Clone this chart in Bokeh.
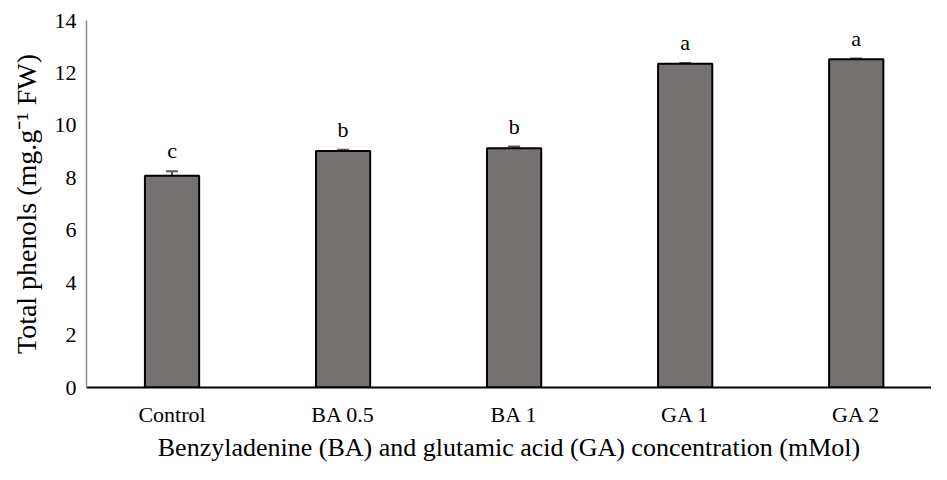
from bokeh.plotting import figure
from bokeh.models import Range1d, FixedTicker, ColumnDataSource, Whisker
from bokeh.core.properties import value
from bokeh.embed import file_html
from bokeh.resources import INLINE

categories = ["Control", "BA 0.5", "BA 1", "GA 1", "GA 2"]
phenols = [8.08, 9.02, 9.13, 12.35, 12.52]
errors = [0.17, 0.05, 0.06, 0.03, 0.03]
letters = ["c", "b", "b", "a", "a"]
y_ticks = [0, 2, 4, 6, 8, 10, 12, 14]

xs = list(range(len(categories)))
src = ColumnDataSource(dict(
    x=xs, top=phenols, lower=[v - e for v, e in zip(phenols, errors)],
    upper=[v + e for v, e in zip(phenols, errors)], lab=letters,
))

FONT = "Liberation Serif"
p = figure(width=931, height=464, output_backend="svg", toolbar_location=None,
           x_range=Range1d(-0.5, 4.44), y_range=Range1d(0, 14),
           min_border_left=86, min_border_right=0, min_border_top=20, min_border_bottom=70)
p.outline_line_color = None
p.grid.visible = False

p.vbar(x="x", top="top", width=0.317, source=src, fill_color="#767171",
       line_color="black", line_width=2)
w = Whisker(source=src, base="x", lower="lower", upper="upper",
            line_color="#595959", line_width=2)
for h in (w.upper_head, w.lower_head):
    h.size = 12
    h.line_color = "#595959"
    h.line_width = 2
p.add_layout(w)

p.text(x="x", y="upper", text="lab", source=src, text_align="center",
       text_baseline="bottom", y_offset=-8, text_font=value(FONT),
       text_font_size="22px", text_color="black")

p.yaxis.ticker = FixedTicker(ticks=y_ticks)
p.xaxis.ticker = FixedTicker(ticks=xs)
p.xaxis.major_label_overrides = {i: c for i, c in enumerate(categories)}
for ax in (p.xaxis, p.yaxis):
    ax.major_tick_line_color = None
    ax.minor_tick_line_color = None
    ax.major_tick_out = 0
    ax.major_tick_in = 0
    ax.minor_tick_out = 0
    ax.minor_tick_in = 0
    ax.major_label_text_font = FONT
    ax.axis_label_text_font = FONT
    ax.axis_label_text_font_style = "normal"
    ax.major_label_text_color = "black"
    ax.axis_label_text_color = "black"
p.yaxis.axis_line_color = "#8c8c8c"
p.yaxis.axis_line_width = 1.5
p.xaxis.axis_line_color = "black"
p.xaxis.axis_line_width = 2
p.yaxis.major_label_text_font_size = "22px"
p.xaxis.major_label_text_font_size = "22px"
p.yaxis.axis_label = "Total phenols (mg.g\u207b\u00b9 FW)"
p.xaxis.axis_label = "Benzyladenine (BA) and glutamic acid (GA) concentration (mMol)"
p.yaxis.axis_label_text_font_size = "28px"
p.xaxis.axis_label_text_font_size = "26px"
p.yaxis.major_label_standoff = 10
p.xaxis.major_label_standoff = 14
p.yaxis.axis_label_standoff = 10
p.xaxis.axis_label_standoff = 3

open("out.html", "w").write(file_html(p, INLINE))
